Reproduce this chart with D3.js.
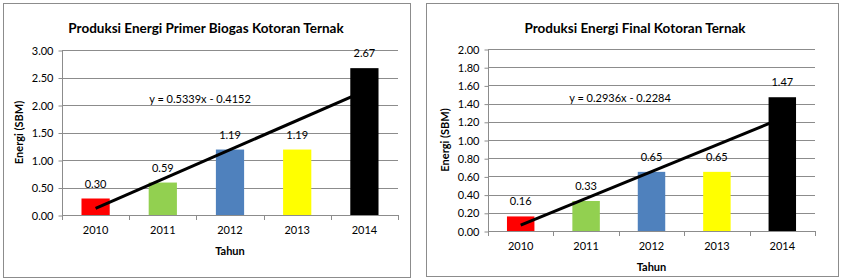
<!DOCTYPE html>
<html>
<head>
<meta charset="utf-8">
<script src="https://cdn.jsdelivr.net/npm/d3@7"></script>
<style>
  body { margin: 0; background: #fff; }
  svg text { font-family: Lato, "Open Sans", sans-serif; fill: #000; }
</style>
</head>
<body>
<div id="chart"></div>
<script>
/* DATA */
const years = ["2010", "2011", "2012", "2013", "2014"];
const barColors = ["#ff0000", "#92d050", "#4f81bd", "#ffff00", "#000000"];

const primerValues = [0.30, 0.59, 1.19, 1.19, 2.67];
const primerTicks = [0, 0.5, 1.0, 1.5, 2.0, 2.5, 3.0];
const primerTrend = [0.5339, -0.4152];

const finalValues = [0.16, 0.33, 0.65, 0.65, 1.47];
const finalTicks = [0, 0.2, 0.4, 0.6, 0.8, 1.0, 1.2, 1.4, 1.6, 1.8, 2.0];
const finalTrend = [0.2936, -0.2284];

const svg = d3.select("#chart").append("svg")
  .attr("width", 848)
  .attr("height", 280);

function drawChart(o) {
  const g = svg.append("g");

  // outer frame
  g.append("rect")
    .attr("x", o.box[0] + 0.5).attr("y", o.box[1] + 0.5)
    .attr("width", o.box[2]).attr("height", o.box[3])
    .attr("fill", "#fff").attr("stroke", "#8c8c8c");

  const x = d3.scaleBand()
    .domain(years)
    .range([o.left, o.right])
    .paddingInner(0.58).paddingOuter(0.29);

  const y = d3.scaleLinear()
    .domain([0, d3.max(o.ticks)])
    .range([o.bottom, o.top]);

  // gridlines
  g.selectAll(".grid")
    .data(o.ticks.slice(1))
    .join("line")
    .attr("x1", o.left).attr("x2", o.right)
    .attr("y1", d => Math.round(y(d)) + 0.5).attr("y2", d => Math.round(y(d)) + 0.5)
    .attr("stroke", "#8c8c8c");

  // y axis
  const yAxis = d3.axisLeft(y).tickValues(o.ticks).tickFormat(d3.format(".2f")).tickSize(4);
  const ya = g.append("g")
    .attr("transform", `translate(${o.left + 0.5},0.5)`)
    .call(yAxis);
  ya.selectAll("path, line").attr("stroke", "#8c8c8c");
  ya.selectAll("text").attr("font-size", 11).attr("dx", -2);
  ya.select(".domain").attr("d", `M0,${o.top}V${o.bottom}`);

  // bars
  g.selectAll(".bar")
    .data(o.values)
    .join("rect")
    .attr("x", (d, i) => x(years[i]))
    .attr("y", d => y(d))
    .attr("width", x.bandwidth())
    .attr("height", d => y(0) - y(d))
    .attr("fill", (d, i) => barColors[i]);

  // x axis, ticks sit between the categories
  const step = (o.right - o.left) / years.length;
  const bounds = d3.range(years.length + 1).map(i => o.left + i * step);
  g.append("line")
    .attr("x1", o.left).attr("x2", o.right)
    .attr("y1", o.bottom + 0.5).attr("y2", o.bottom + 0.5)
    .attr("stroke", "#8c8c8c");
  g.selectAll(".xtick")
    .data(bounds)
    .join("line")
    .attr("x1", d => Math.round(d) + 0.5).attr("x2", d => Math.round(d) + 0.5)
    .attr("y1", o.bottom).attr("y2", o.bottom + 5)
    .attr("stroke", "#8c8c8c");
  g.selectAll(".xlab")
    .data(years)
    .join("text")
    .attr("x", d => x(d) + x.bandwidth() / 2)
    .attr("y", o.bottom + 19)
    .attr("text-anchor", "middle")
    .attr("font-size", 11)
    .text(d => d);

  // data labels
  g.selectAll(".dlab")
    .data(o.values)
    .join("text")
    .attr("x", (d, i) => x(years[i]) + x.bandwidth() / 2)
    .attr("y", d => y(d) - 11)
    .attr("text-anchor", "middle")
    .attr("font-size", 11)
    .text(d => d3.format(".2f")(d));

  // linear trend line from first to last category
  const cx = i => x(years[i]) + x.bandwidth() / 2;
  const tv = i => o.trend[0] * (i + 1) + o.trend[1];
  g.append("line")
    .attr("x1", cx(0)).attr("y1", y(tv(0)))
    .attr("x2", cx(4)).attr("y2", y(tv(4)))
    .attr("stroke", "#000").attr("stroke-width", 3);

  g.append("text")
    .attr("x", o.eq[0]).attr("y", o.eq[1])
    .attr("text-anchor", "middle")
    .attr("font-size", 11)
    .text(`y = ${o.trend[0]}x - ${Math.abs(o.trend[1])}`);

  // titles
  g.append("text")
    .attr("x", o.titleX).attr("y", 33)
    .attr("text-anchor", "middle")
    .attr("font-size", 13.5).attr("font-weight", "bold")
    .text(o.title);

  g.append("text")
    .attr("x", (o.left + o.right) / 2).attr("y", o.bottom + 40)
    .attr("text-anchor", "middle")
    .attr("font-size", 11).attr("font-weight", "bold")
    .text("Tahun");

  g.append("text")
    .attr("transform", `translate(${o.ylabX},${(o.top + o.bottom) / 2}) rotate(-90)`)
    .attr("text-anchor", "middle")
    .attr("font-size", 11).attr("font-weight", "bold")
    .text("Energi (SBM)");
}

drawChart({
  box: [3, 3, 407, 274],
  left: 62, right: 398, top: 50, bottom: 215,
  ticks: primerTicks, values: primerValues, trend: primerTrend,
  title: "Produksi Energi Primer Biogas Kotoran Ternak", titleX: 206,
  eq: [200, 103], ylabX: 23
});

drawChart({
  box: [426, 3, 412, 273],
  left: 488, right: 815, top: 49, bottom: 231,
  ticks: finalTicks, values: finalValues, trend: finalTrend,
  title: "Produksi Energi Final Kotoran Ternak", titleX: 635,
  eq: [620, 102], ylabX: 449
});
</script>
</body>
</html>
